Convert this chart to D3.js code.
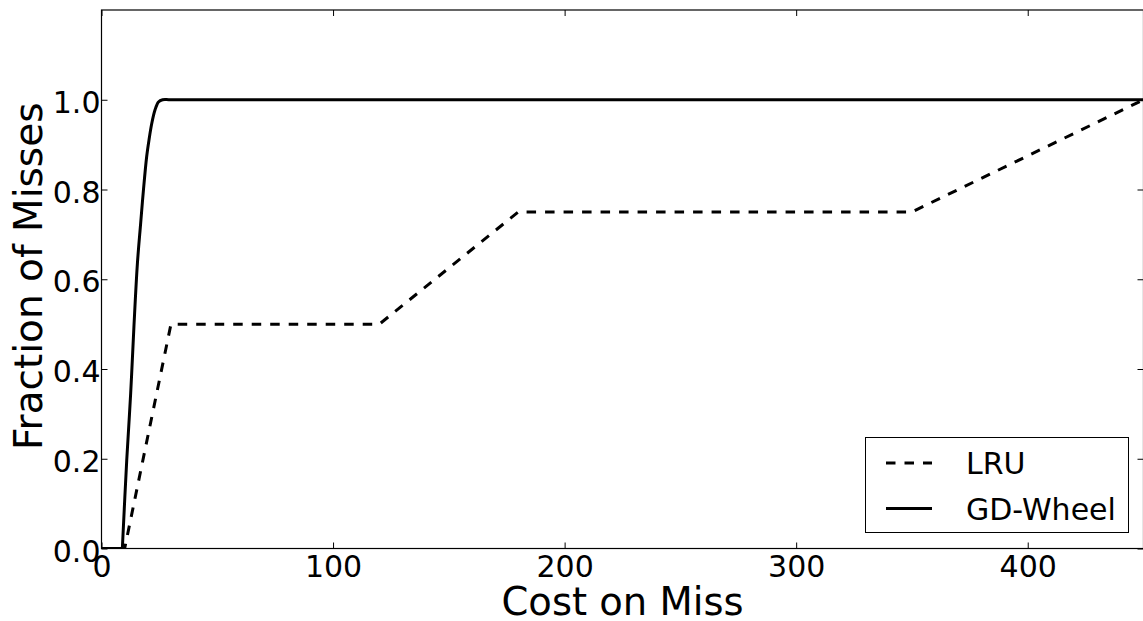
<!DOCTYPE html>
<html>
<head>
<meta charset="utf-8">
<script src="https://cdn.jsdelivr.net/npm/d3@7"></script>
<style>
  html, body { margin: 0; padding: 0; background: #fff; }
  svg { display: block; font-family: "DejaVu Sans", sans-serif; }
</style>
</head>
<body>
<svg id="chart" width="1143" height="621"></svg>
<script>
// ---- data ----
const lruX = [0, 10, 30, 120, 180, 350, 450];
const lruY = [0, 0, 0.5, 0.5, 0.75, 0.75, 1.0];
const gdX = [0, 9, 10.9, 12.6, 14.0, 15.5, 16.9, 18.1, 19.5, 20.5, 21.7, 23.1, 24.6, 26.4, 30, 450];
const gdY = [0, 0, 0.197, 0.346, 0.494, 0.635, 0.724, 0.798, 0.873, 0.91, 0.947, 0.977, 0.995, 1.0, 1.0, 1.0];
const xTicks = [0, 100, 200, 300, 400];
const yTicks = [0.0, 0.2, 0.4, 0.6, 0.8, 1.0];
const seriesNames = ["LRU", "GD-Wheel"];
const xLabel = "Cost on Miss";
const yLabel = "Fraction of Misses";

// ---- layout ----
const pL = 101.5, pR = 1143.5, pT = 10, pB = 548.5;
const svg = d3.select("#chart");
const x = d3.scaleLinear().domain([0, 450]).range([pL, pR]);
const y = d3.scaleLinear().domain([0, 1.2]).range([pB, pT]);

const lruData = lruX.map((v, i) => [v, lruY[i]]);
const gdData = gdX.map((v, i) => [v, gdY[i]]);

const lineLin = d3.line().x(d => x(d[0])).y(d => y(d[1]));
const lineSmooth = d3.line().x(d => x(d[0])).y(d => y(d[1])).curve(d3.curveCatmullRom.alpha(0.5));

// clip
svg.append("clipPath").attr("id", "clip").append("rect")
  .attr("x", pL).attr("y", pT).attr("width", pR - pL).attr("height", pB - pT);

const g = svg.append("g").attr("clip-path", "url(#clip)");
// GD-Wheel: flat start drawn straight, rising part smooth
g.append("path").datum(gdData.slice(0, 2)).attr("d", lineLin)
  .attr("fill", "none").attr("stroke", "#000").attr("stroke-width", 3);
g.append("path").datum(gdData.slice(1)).attr("d", lineSmooth)
  .attr("fill", "none").attr("stroke", "#000").attr("stroke-width", 3)
  .attr("stroke-linejoin", "round");
g.append("path").datum(lruData).attr("d", lineLin)
  .attr("fill", "none").attr("stroke", "#000").attr("stroke-width", 3)
  .attr("stroke-dasharray", "9.5,9");

// axes (matplotlib classic: inward ticks on all sides)
const tickLen = 6;
const axB = d3.axisBottom(x).tickValues(xTicks).tickSize(-tickLen).tickPadding(7).tickFormat(d3.format("d"));
const axT = d3.axisTop(x).tickValues(xTicks).tickSize(-tickLen).tickFormat("");
const axL = d3.axisLeft(y).tickValues(yTicks).tickSize(-tickLen).tickPadding(1).tickFormat(d3.format(".1f"));
const axR = d3.axisRight(y).tickValues(yTicks).tickSize(-tickLen).tickFormat("");

function style(sel) {
  sel.select(".domain").remove();
  sel.selectAll(".tick line").attr("stroke", "#000").attr("stroke-width", 1);
  sel.selectAll(".tick text").attr("fill", "#000").attr("font-size", 30)
    .attr("font-family", "DejaVu Sans, sans-serif");
}
svg.append("g").attr("transform", `translate(0,${pB})`).call(axB).call(style);
svg.append("g").attr("transform", `translate(0,${pT})`).call(axT).call(style);
const gl = svg.append("g").attr("transform", `translate(${pL},0)`).call(axL).call(style);
gl.selectAll(".tick text").attr("dy", "0.42em");
svg.append("g").attr("transform", `translate(${pR},0)`).call(axR).call(style);

// frame
svg.append("rect").attr("x", pL).attr("y", pT).attr("width", pR - pL).attr("height", pB - pT)
  .attr("fill", "none").attr("stroke", "#000").attr("stroke-width", 1.2);

// labels
svg.append("text").attr("x", (pL + pR) / 2).attr("y", 615)
  .attr("text-anchor", "middle").attr("font-size", 38.5).attr("fill", "#000").text(xLabel);
svg.append("text").attr("transform", `translate(42,${(pT + pB) / 2 - 3}) rotate(-90)`)
  .attr("text-anchor", "middle").attr("font-size", 39).attr("fill", "#000").text(yLabel);

// legend
const lg = svg.append("g");
lg.append("rect").attr("x", 865.5).attr("y", 437.5).attr("width", 263).attr("height", 95)
  .attr("fill", "#fff").attr("stroke", "#000").attr("stroke-width", 1);
const legendRows = [
  { name: seriesNames[0], dash: "9.5,9", ly: 463, ty: 474 },
  { name: seriesNames[1], dash: null, ly: 508.5, ty: 519.5 }
];
legendRows.forEach(r => {
  const ln = lg.append("line").attr("x1", 886).attr("x2", 932).attr("y1", r.ly).attr("y2", r.ly)
    .attr("stroke", "#000").attr("stroke-width", 3);
  if (r.dash) ln.attr("stroke-dasharray", r.dash);
  lg.append("text").attr("x", 966).attr("y", r.ty).attr("font-size", 30).attr("fill", "#000").text(r.name);
});
</script>
</body>
</html>
